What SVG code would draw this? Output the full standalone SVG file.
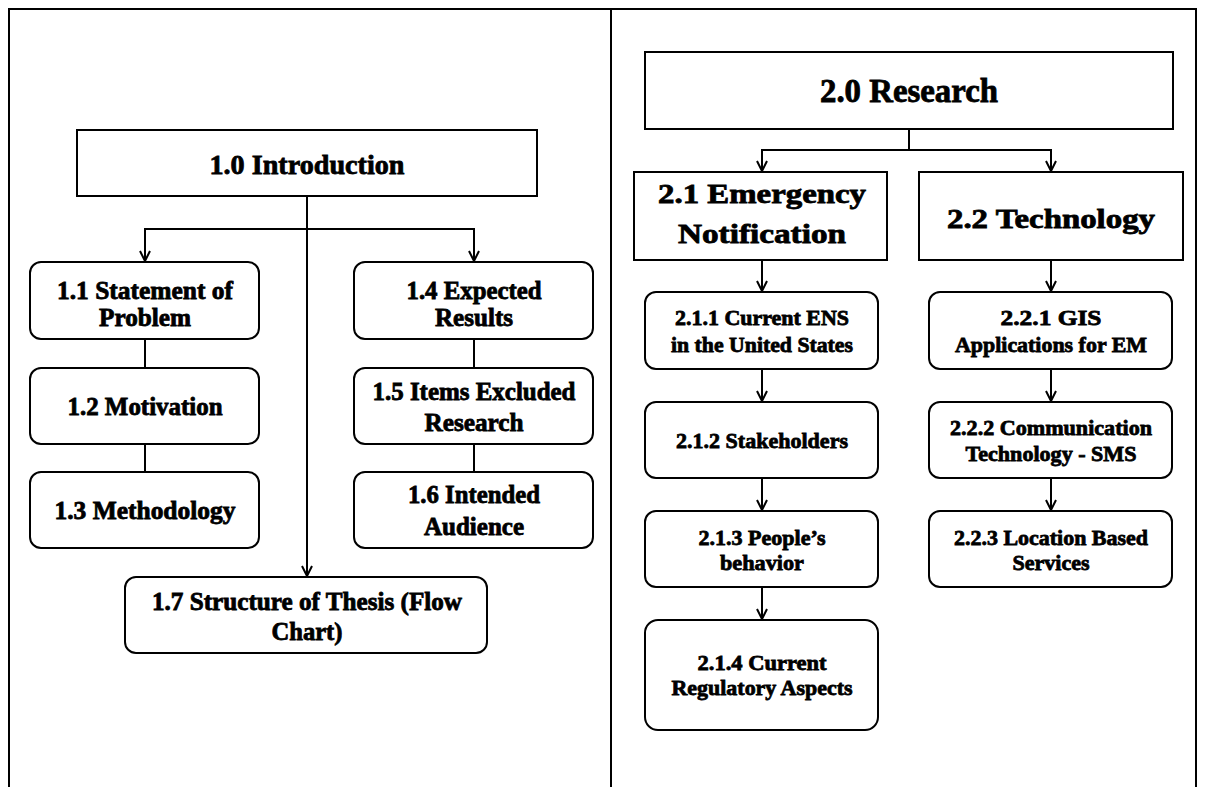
<svg xmlns="http://www.w3.org/2000/svg" width="1205" height="787" viewBox="0 0 1205 787">
  <style>
    .frame { fill: none; stroke: #000; stroke-width: 2; }
    .box { fill: #fff; stroke: #000; stroke-width: 2; }
    .conn { fill: none; stroke: #000; stroke-width: 2; }
    text { font-family: "Liberation Serif", "Times New Roman", serif; font-weight: bold; fill: #000; stroke: #000; stroke-width: 0.8; text-anchor: middle; }
    .t1 { font-size: 28px; }
    .t2 { font-size: 33px; }
    .tm { font-size: 28px; }
    .ts { font-size: 25px; }
    .tr { font-size: 22px; }
  </style>
  <defs>
    <marker id="arrow" markerUnits="userSpaceOnUse" markerWidth="16" markerHeight="16" viewBox="-12 -8 16 16" refX="0" refY="0" orient="auto" overflow="visible">
      <path d="M-10,-5 L0,0 L-10,5" fill="none" stroke="#000" stroke-width="2"/>
    </marker>
  </defs>

  <rect width="1205" height="787" fill="#fff"/>

  <!-- page frame: two columns, open at the bottom -->
  <g id="frame" class="frame">
    <path d="M9,787 V9 H1196 V787"/>
    <path d="M611,9 V787"/>
  </g>

  <!-- connectors -->
  <g id="connectors" class="conn">
    <!-- left column -->
    <path d="M307,196 V229 H145 V261" marker-end="url(#arrow)"/>
    <path d="M307,229 H474 V261" marker-end="url(#arrow)"/>
    <path d="M307,229 V576" marker-end="url(#arrow)"/>
    <path d="M145,339 V368"/>
    <path d="M145,444 V472"/>
    <path d="M474,339 V368"/>
    <path d="M474,444 V472"/>
    <!-- right column -->
    <path d="M909,129 V150 H762 V171" marker-end="url(#arrow)"/>
    <path d="M909,150 H1051 V171" marker-end="url(#arrow)"/>
    <path d="M762,260 V291" marker-end="url(#arrow)"/>
    <path d="M762,369 V401" marker-end="url(#arrow)"/>
    <path d="M762,478 V510" marker-end="url(#arrow)"/>
    <path d="M762,587 V619" marker-end="url(#arrow)"/>
    <path d="M1051,260 V291" marker-end="url(#arrow)"/>
    <path d="M1051,369 V401" marker-end="url(#arrow)"/>
    <path d="M1051,478 V510" marker-end="url(#arrow)"/>
  </g>

  <!-- 1.0 Introduction -->
  <g id="n1_0">
    <rect class="box" x="77" y="130" width="460" height="66"/>
    <text class="t1" x="307" y="174" textLength="195" lengthAdjust="spacingAndGlyphs">1.0 Introduction</text>
  </g>
  <g id="n1_1">
    <rect class="box" x="30" y="262" width="229" height="77" rx="11"/>
    <text class="ts" x="145" y="299" textLength="176" lengthAdjust="spacingAndGlyphs">1.1 Statement of</text>
    <text class="ts" x="145" y="326" textLength="92" lengthAdjust="spacingAndGlyphs">Problem</text>
  </g>
  <g id="n1_2">
    <rect class="box" x="30" y="368" width="229" height="76" rx="11"/>
    <text class="ts" x="145" y="415" textLength="155" lengthAdjust="spacingAndGlyphs">1.2 Motivation</text>
  </g>
  <g id="n1_3">
    <rect class="box" x="30" y="472" width="229" height="76" rx="11"/>
    <text class="ts" x="145" y="519" textLength="181" lengthAdjust="spacingAndGlyphs">1.3 Methodology</text>
  </g>
  <g id="n1_4">
    <rect class="box" x="354" y="262" width="239" height="77" rx="11"/>
    <text class="ts" x="474" y="299" textLength="135" lengthAdjust="spacingAndGlyphs">1.4 Expected</text>
    <text class="ts" x="474" y="326" textLength="78" lengthAdjust="spacingAndGlyphs">Results</text>
  </g>
  <g id="n1_5">
    <rect class="box" x="354" y="368" width="239" height="76" rx="11"/>
    <text class="ts" x="474" y="400" textLength="203" lengthAdjust="spacingAndGlyphs">1.5 Items Excluded</text>
    <text class="ts" x="474" y="431" textLength="99" lengthAdjust="spacingAndGlyphs">Research</text>
  </g>
  <g id="n1_6">
    <rect class="box" x="354" y="472" width="239" height="76" rx="11"/>
    <text class="ts" x="474" y="503" textLength="132" lengthAdjust="spacingAndGlyphs">1.6 Intended</text>
    <text class="ts" x="474" y="535" textLength="100" lengthAdjust="spacingAndGlyphs">Audience</text>
  </g>
  <g id="n1_7">
    <rect class="box" x="125" y="577" width="362" height="76" rx="11"/>
    <text class="ts" x="307" y="610" textLength="310" lengthAdjust="spacingAndGlyphs">1.7 Structure of Thesis (Flow</text>
    <text class="ts" x="307" y="640" textLength="71" lengthAdjust="spacingAndGlyphs">Chart)</text>
  </g>

  <!-- 2.0 Research -->
  <g id="n2_0">
    <rect class="box" x="645" y="52" width="528" height="77"/>
    <text class="t2" x="909" y="102" textLength="178" lengthAdjust="spacingAndGlyphs">2.0 Research</text>
  </g>
  <g id="n2_1">
    <rect class="box" x="634" y="172" width="253" height="88"/>
    <text class="tm" x="762" y="203" textLength="208" lengthAdjust="spacingAndGlyphs">2.1 Emergency</text>
    <text class="tm" x="762" y="243" textLength="168" lengthAdjust="spacingAndGlyphs">Notification</text>
  </g>
  <g id="n2_2">
    <rect class="box" x="919" y="172" width="264" height="88"/>
    <text class="tm" x="1051" y="228" textLength="208" lengthAdjust="spacingAndGlyphs">2.2 Technology</text>
  </g>
  <g id="n2_1_1">
    <rect class="box" x="645" y="292" width="233" height="77" rx="11"/>
    <text class="tr" x="762" y="325" textLength="174" lengthAdjust="spacingAndGlyphs">2.1.1 Current ENS</text>
    <text class="tr" x="762" y="352" textLength="182" lengthAdjust="spacingAndGlyphs">in the United States</text>
  </g>
  <g id="n2_1_2">
    <rect class="box" x="645" y="402" width="233" height="76" rx="11"/>
    <text class="tr" x="762" y="448" textLength="172" lengthAdjust="spacingAndGlyphs">2.1.2 Stakeholders</text>
  </g>
  <g id="n2_1_3">
    <rect class="box" x="645" y="511" width="233" height="76" rx="11"/>
    <text class="tr" x="762" y="545" textLength="127" lengthAdjust="spacingAndGlyphs">2.1.3 People’s</text>
    <text class="tr" x="762" y="570" textLength="84" lengthAdjust="spacingAndGlyphs">behavior</text>
  </g>
  <g id="n2_1_4">
    <rect class="box" x="645" y="620" width="233" height="110" rx="13"/>
    <text class="tr" x="762" y="670" textLength="129" lengthAdjust="spacingAndGlyphs">2.1.4 Current</text>
    <text class="tr" x="762" y="695" textLength="181" lengthAdjust="spacingAndGlyphs">Regulatory Aspects</text>
  </g>
  <g id="n2_2_1">
    <rect class="box" x="929" y="292" width="243" height="77" rx="11"/>
    <text class="tr" x="1051" y="325" textLength="101" lengthAdjust="spacingAndGlyphs">2.2.1 GIS</text>
    <text class="tr" x="1051" y="352" textLength="192" lengthAdjust="spacingAndGlyphs">Applications for EM</text>
  </g>
  <g id="n2_2_2">
    <rect class="box" x="929" y="402" width="243" height="76" rx="11"/>
    <text class="tr" x="1051" y="435" textLength="202" lengthAdjust="spacingAndGlyphs">2.2.2 Communication</text>
    <text class="tr" x="1051" y="461" textLength="171" lengthAdjust="spacingAndGlyphs">Technology - SMS</text>
  </g>
  <g id="n2_2_3">
    <rect class="box" x="929" y="511" width="243" height="76" rx="11"/>
    <text class="tr" x="1051" y="545" textLength="194" lengthAdjust="spacingAndGlyphs">2.2.3 Location Based</text>
    <text class="tr" x="1051" y="570" textLength="77" lengthAdjust="spacingAndGlyphs">Services</text>
  </g>
</svg>
